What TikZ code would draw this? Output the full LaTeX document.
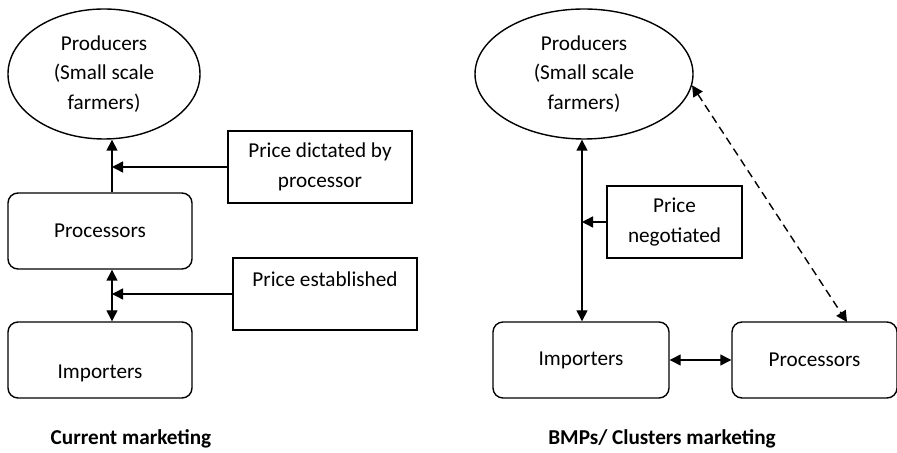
\documentclass[tikz,border=0pt]{standalone}
\usepackage{fontspec}
\setmainfont{Carlito}
\usetikzlibrary{arrows.meta,shapes.geometric}

\begin{document}
\begin{tikzpicture}[x=0.5pt, y=-0.5pt, line width=0.7pt, >={Triangle[length=5.5pt,width=5.5pt]},
    every node/.style={font=\fontsize{10.6}{14.75}\selectfont},
    farmers/.style={ellipse, draw, minimum height=65pt, inner sep=0pt, align=center},
    actor/.style={draw, rounded corners=5pt, minimum height=38pt},
    pricebox/.style={draw, align=center, minimum width=92pt, minimum height=36pt},
    caption/.style={font=\fontsize{10.6}{14.75}\selectfont\bfseries}]
    \useasboundingbox (0,0) rectangle (897,453);
    % current marketing
    \node[farmers, minimum width=96pt] (lprod) at (104,74) {Producers\\(Small scale\\farmers)};
    \node[actor, minimum width=92pt] (lproc) at (100,231) {Processors};
    \node[actor, minimum width=92pt] (limp) at (100,360) {\raisebox{-6.5pt}[\height][\depth]{Importers}};
    \node[pricebox] (ldict) at (320,167) {Price dictated by\\processor};
    \node[pricebox] (lest) at (325,294) {\raisebox{7.5pt}[\height][\depth]{Price established}};
    \node[caption] (lcap) at (131,439) {Current marketing};
    \coordinate (lx) at (112,0);
    \draw[->] (lx |- lproc.north) -- (lx |- lprod.south);
    \draw[<->] (lx |- lproc.south) -- (lx |- limp.north);
    \foreach \src in {ldict, lest}
        \draw[->] (\src.west) -- (\src.west -| lx);
    % BMPs / clusters marketing
    \node[farmers, minimum width=109pt] (rprod) at (584,74) {Producers\\(Small scale\\farmers)};
    \node[actor, minimum width=88pt] (rimp) at (581,360) {Importers};
    \node[actor, minimum width=82.5pt] (rproc) at (814.5,360) {Processors};
    \node[pricebox, minimum width=67.5pt] (rneg) at (674.5,222) {Price\\negotiated};
    \node[caption] (rcap) at (662,439) {BMPs/ Clusters marketing};
    \coordinate (rx) at (582,0);
    \coordinate (rend) at (847,322);
    \draw[<->] (rx |- rprod.south) -- (rx |- rimp.north);
    \draw[->] (rneg.west) -- (rneg.west -| rx);
    \draw[<->] (rimp.east) -- (rproc.west);
    \draw[<->, dash pattern=on 4pt off 2.5pt] (rprod.-6) -- (rend);
\end{tikzpicture}
\end{document}
